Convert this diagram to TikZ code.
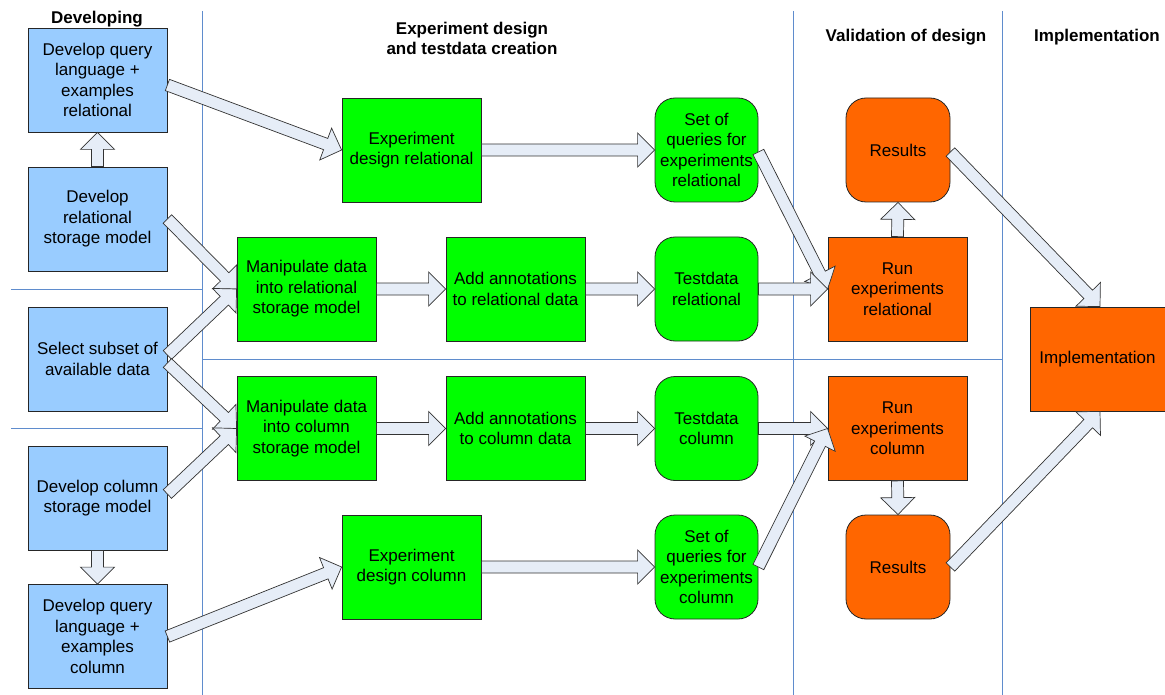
\documentclass[tikz,border=0pt]{standalone}
\usepackage{fontspec}
\setmainfont{Liberation Sans}
\usetikzlibrary{calc}

\definecolor{laneblue}{RGB}{95,140,205}
\definecolor{devblue}{RGB}{153,204,255}
\definecolor{designgreen}{RGB}{0,255,0}
\definecolor{runorange}{RGB}{255,102,0}
\definecolor{arrowfill}{RGB}{230,237,247}

% Block arrow from #1 to #2: shaft half-width 6, head length 17, head half-width 17
\newcommand\fatarrow[2]{%
  \draw[blockarrow]
    ($(#1)!6pt!90:(#2)$)
    -- ($(#2)!17pt!(#1)!6pt!-90:(#1)$)
    -- ($(#2)!17pt!(#1)!17pt!-90:(#1)$)
    -- (#2)
    -- ($(#2)!17pt!(#1)!17pt!90:(#1)$)
    -- ($(#2)!17pt!(#1)!6pt!90:(#1)$)
    -- ($(#1)!6pt!-90:(#2)$)
    -- cycle;}

\tikzset{
  lane/.style={draw=laneblue, line width=0.9pt},
  header/.style={font=\bfseries\fontsize{17}{20}\selectfont, align=center, inner sep=0pt},
  box/.style={draw=black!85, line width=0.8pt, inner sep=0pt, align=center,
    minimum width=139pt, minimum height=104pt,
    font=\fontsize{17}{20.5}\selectfont},
  dev/.style={box, fill=devblue},
  design/.style={box, fill=designgreen},
  result/.style={box, fill=designgreen, rounded corners=20pt, minimum width=103pt},
  run/.style={box, fill=runorange},
  outcome/.style={box, fill=runorange, rounded corners=20pt, minimum width=104pt},
  blockarrow/.style={draw=black!80, line width=0.7pt, fill=arrowfill, line join=miter},
}

\begin{document}
\begin{tikzpicture}[x=1pt,y=-1pt]
\useasboundingbox (0,0) rectangle (1165,695);

% swim lanes
\draw[lane] (202.5,11) -- (202.5,695);
\draw[lane] (793.5,11) -- (793.5,695);
\draw[lane] (1002.5,11) -- (1002.5,695);
\draw[lane] (11,289.5) -- (202.5,289.5);
\draw[lane] (11,428.5) -- (202.5,428.5);
\draw[lane] (202.5,359) -- (1002.5,359);

% lane headers
\node[header] (hdev) at (97,19) {Developing};
\node[header] (hexp) at (472,38) {Experiment design\\and testdata creation};
\node[header] (hval) at (906,37) {Validation of design};
\node[header] (himp) at (1097,37) {Implementation};

% developing
\node[dev] (b1) at (97.5,80) {Develop query\\language +\\examples\\relational};
\node[dev] (b2) at (97.5,219) {Develop\\relational\\storage model};
\node[dev] (b3) at (97.5,359) {Select subset of\\available data};
\node[dev] (b4) at (97.5,498) {Develop column\\storage model};
\node[dev] (b5) at (97.5,636.5) {Develop query\\language +\\examples\\column};

% experiment design and testdata creation
\node[design] (g1) at (411.5,150) {Experiment\\design relational};
\node[design] (g2) at (306.5,289) {Manipulate data\\into relational\\storage model};
\node[design] (g3) at (515.5,289) {Add annotations\\to relational data};
\node[result] (r1) at (706.5,150) {Set of\\queries for\\experiments\\relational};
\node[result] (r2) at (706.5,289) {Testdata\\relational};
\node[design] (g4) at (306.5,428.5) {Manipulate data\\into column\\storage model};
\node[design] (g5) at (515.5,428.5) {Add annotations\\to column data};
\node[result] (r3) at (706.5,428.5) {Testdata\\column};
\node[design] (g6) at (411.5,567) {Experiment\\design column};
\node[result] (r4) at (706.5,567) {Set of\\queries for\\experiments\\column};

% validation of design
\node[outcome] (o1) at (898,150) {Results};
\node[run] (o2) at (897.5,289) {Run\\experiments\\relational};
\node[run] (o3) at (897.5,428.5) {Run\\experiments\\column};
\node[outcome] (o4) at (898,567) {Results};

% implementation
\node[run, minimum width=135pt] (o5) at (1097.5,359) {Implementation};

% arrow ends away from anchors
\coordinate (s1) at ($(b1.east)+(0,5)$);
\coordinate (s3a) at ($(b3.east)+(0,-4)$);
\coordinate (s3b) at ($(b3.east)+(0,4)$);
\coordinate (s4) at ($(b4.east)+(0,-4)$);
\coordinate (sr1) at ($(r1.east)+(0,2)$);
\coordinate (so1) at ($(o1.east)+(0,2)$);
\coordinate (t5a) at ($(o5.north)+(2.5,0)$);
\coordinate (t5b) at ($(o5.south)+(2.5,0)$);

% flows
\fatarrow{b2.north}{b1.south}
\fatarrow{s1}{g1.west}
\fatarrow{b2.east}{g2.west}
\fatarrow{s3a}{g2.west}
\fatarrow{s3b}{g4.west}
\fatarrow{s4}{g4.west}
\fatarrow{b4.south}{b5.north}
\fatarrow{b5.east}{g6.west}

\fatarrow{g1.east}{r1.west}
\fatarrow{g2.east}{g3.west}
\fatarrow{g3.east}{r2.west}
\fatarrow{g4.east}{g5.west}
\fatarrow{g5.east}{r3.west}
\fatarrow{g6.east}{r4.west}

\fatarrow{sr1}{o2.west}
\fatarrow{r2.east}{o2.west}
\fatarrow{r3.east}{o3.west}
\fatarrow{r4.east}{o3.west}

\fatarrow{o2.north}{o1.south}
\fatarrow{o3.south}{o4.north}
\fatarrow{so1}{t5a}
\fatarrow{o4.east}{t5b}
\end{tikzpicture}
\end{document}
